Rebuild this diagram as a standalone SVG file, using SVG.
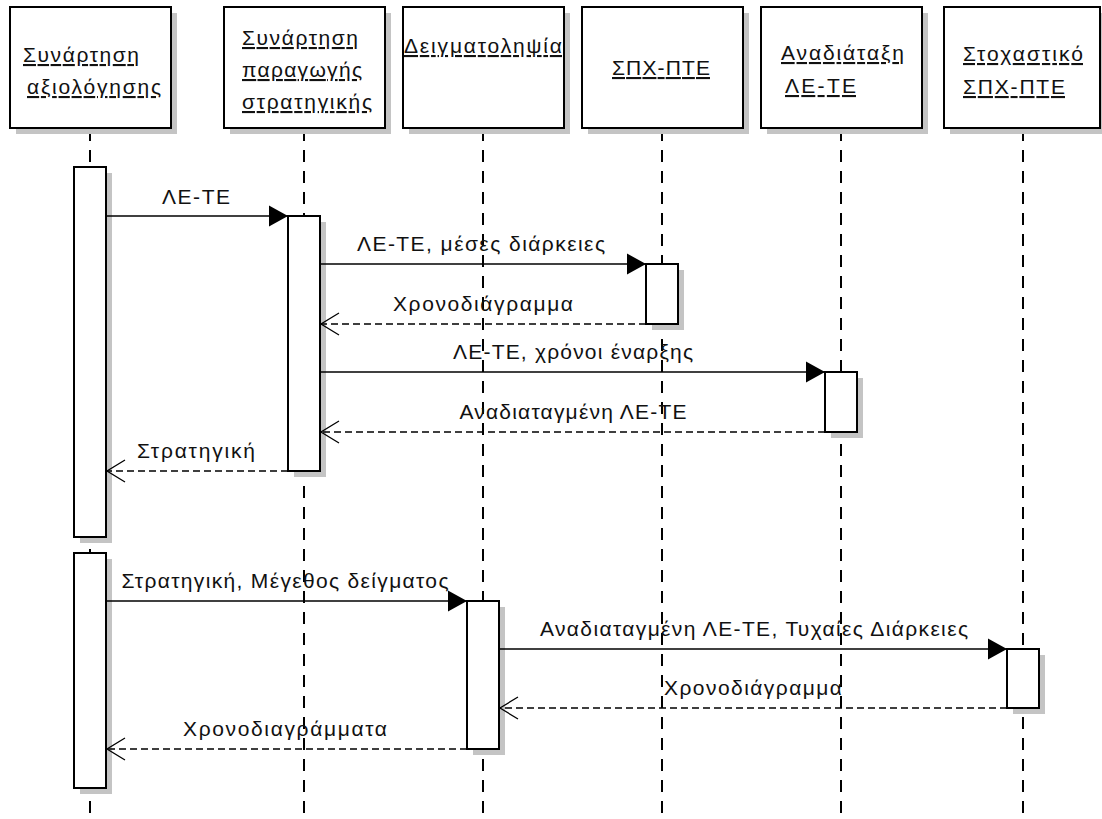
<svg xmlns="http://www.w3.org/2000/svg" width="1102" height="819" viewBox="0 0 1102 819">
<style>
.box{fill:#fff;stroke:#000;stroke-width:2}
.sh{fill:#c4c4c4;stroke:none}
.life{stroke:#000;stroke-width:2;stroke-dasharray:12 9;fill:none}
.hd{font-family:"Liberation Sans",Arial,sans-serif;font-size:21px;fill:#111;text-decoration:underline}
.lb{font-family:"Liberation Sans",Arial,sans-serif;font-size:21px;fill:#111;text-anchor:middle}
.msg{stroke:#000;stroke-width:1.7;fill:none}
.ret{stroke:#000;stroke-width:1.5;fill:none;stroke-dasharray:7 4}
</style>
<defs>
<marker id="fill" markerUnits="userSpaceOnUse" markerWidth="19" markerHeight="21" refX="19" refY="10.5" orient="auto" overflow="visible">
<path d="M0,0 L19,10.5 L0,21 z" fill="#000"/>
</marker>
<marker id="open" markerUnits="userSpaceOnUse" markerWidth="19" markerHeight="22" refX="18" refY="11" orient="auto" overflow="visible">
<path d="M0,0 L18,11 L0,22" fill="none" stroke="#000" stroke-width="1.3"/>
</marker>
</defs>
<rect width="1102" height="819" fill="#fff"/>

<g id="n-eval">
<line class="life" x1="90" y1="129" x2="90" y2="819"/>
<rect class="sh" x="16" y="13" width="161" height="121"/>
<rect class="box" x="10" y="7" width="161" height="121"/>
<text class="hd" x="23" y="62" textLength="116" lengthAdjust="spacing">Συνάρτηση</text>
<text class="hd" x="27" y="94" textLength="134" lengthAdjust="spacing">αξιολόγησης</text>
<rect class="sh" x="80" y="173" width="32" height="370"/>
<rect class="box" x="74" y="167" width="32" height="370"/>
<rect class="sh" x="80" y="559" width="32" height="235"/>
<rect class="box" x="74" y="553" width="32" height="235"/>
</g>

<g id="n-strategy">
<line class="life" x1="304" y1="129" x2="304" y2="819"/>
<rect class="sh" x="230" y="13" width="161" height="121"/>
<rect class="box" x="224" y="7" width="161" height="121"/>
<text class="hd" x="242" y="45" textLength="116" lengthAdjust="spacing">Συνάρτηση</text>
<text class="hd" x="242" y="77" textLength="120" lengthAdjust="spacing">παραγωγής</text>
<text class="hd" x="242" y="109" textLength="130" lengthAdjust="spacing">στρατηγικής</text>
<rect class="sh" x="294" y="222" width="32" height="255"/>
<rect class="box" x="288" y="216" width="32" height="255"/>
</g>

<g id="n-sampling">
<line class="life" x1="483" y1="129" x2="483" y2="819"/>
<rect class="sh" x="409" y="13" width="161" height="121"/>
<rect class="box" x="403" y="7" width="161" height="121"/>
<text class="hd" x="404" y="53" textLength="158" lengthAdjust="spacing">Δειγματοληψία</text>
<rect class="sh" x="473" y="607" width="32" height="148"/>
<rect class="box" x="467" y="601" width="32" height="148"/>
</g>

<g id="n-spx">
<line class="life" x1="662" y1="129" x2="662" y2="819"/>
<rect class="sh" x="588" y="13" width="161" height="121"/>
<rect class="box" x="582" y="7" width="161" height="121"/>
<text class="hd" x="612" y="75" textLength="98" lengthAdjust="spacing">ΣΠΧ-ΠΤΕ</text>
<rect class="sh" x="652" y="270" width="32" height="60"/>
<rect class="box" x="646" y="264" width="32" height="60"/>
</g>

<g id="n-reorder">
<line class="life" x1="841" y1="129" x2="841" y2="819"/>
<rect class="sh" x="767" y="13" width="161" height="121"/>
<rect class="box" x="761" y="7" width="161" height="121"/>
<text class="hd" x="781" y="60" textLength="123" lengthAdjust="spacing">Αναδιάταξη</text>
<text class="hd" x="785" y="93" textLength="71" lengthAdjust="spacing">ΛΕ-ΤΕ</text>
<rect class="sh" x="831" y="378" width="32" height="60"/>
<rect class="box" x="825" y="372" width="32" height="60"/>
</g>

<g id="n-stochastic">
<line class="life" x1="1023" y1="129" x2="1023" y2="819"/>
<rect class="sh" x="950" y="13" width="156" height="121"/>
<rect class="box" x="944" y="7" width="156" height="121"/>
<text class="hd" x="963" y="61" textLength="120" lengthAdjust="spacing">Στοχαστικό</text>
<text class="hd" x="963" y="94" textLength="102" lengthAdjust="spacing">ΣΠΧ-ΠΤΕ</text>
<rect class="sh" x="1013" y="655" width="32" height="59"/>
<rect class="box" x="1007" y="649" width="32" height="59"/>
</g>

<g id="connectors">
<line class="msg" x1="106" y1="216" x2="288" y2="216" marker-end="url(#fill)"/>
<text class="lb" x="196" y="204" textLength="68" lengthAdjust="spacing">ΛΕ-ΤΕ</text>

<line class="msg" x1="320" y1="264" x2="646" y2="264" marker-end="url(#fill)"/>
<text class="lb" x="481" y="251" textLength="248" lengthAdjust="spacing">ΛΕ-ΤΕ, μέσες διάρκειες</text>

<line class="ret" x1="646" y1="324" x2="321" y2="324" marker-end="url(#open)"/>
<text class="lb" x="483" y="311" textLength="180" lengthAdjust="spacing">Χρονοδιάγραμμα</text>

<line class="msg" x1="320" y1="372" x2="825" y2="372" marker-end="url(#fill)"/>
<text class="lb" x="573" y="359" textLength="240" lengthAdjust="spacing">ΛΕ-ΤΕ, χρόνοι έναρξης</text>

<line class="ret" x1="825" y1="432" x2="321" y2="432" marker-end="url(#open)"/>
<text class="lb" x="573" y="419" textLength="227" lengthAdjust="spacing">Αναδιαταγμένη ΛΕ-ΤΕ</text>

<line class="ret" x1="288" y1="471" x2="107" y2="471" marker-end="url(#open)"/>
<text class="lb" x="196" y="458" textLength="118" lengthAdjust="spacing">Στρατηγική</text>

<line class="msg" x1="106" y1="601" x2="467" y2="601" marker-end="url(#fill)"/>
<text class="lb" x="285" y="588" textLength="327" lengthAdjust="spacing">Στρατηγική, Μέγεθος δείγματος</text>

<line class="msg" x1="499" y1="649" x2="1007" y2="649" marker-end="url(#fill)"/>
<text class="lb" x="754" y="636" textLength="428" lengthAdjust="spacing">Αναδιαταγμένη ΛΕ-ΤΕ, Τυχαίες Διάρκειες</text>

<line class="ret" x1="1007" y1="708" x2="500" y2="708" marker-end="url(#open)"/>
<text class="lb" x="753" y="695" textLength="178" lengthAdjust="spacing">Χρονοδιάγραμμα</text>

<line class="ret" x1="467" y1="749" x2="107" y2="749" marker-end="url(#open)"/>
<text class="lb" x="285" y="736" textLength="204" lengthAdjust="spacing">Χρονοδιαγράμματα</text>
</g>
</svg>
